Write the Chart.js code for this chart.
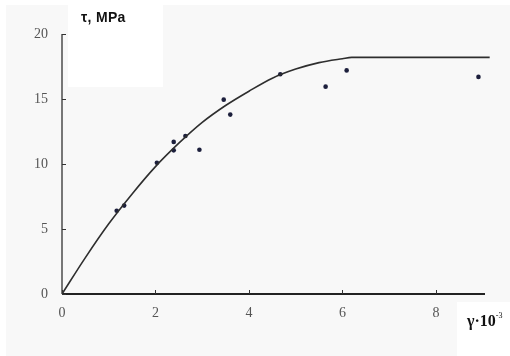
<!DOCTYPE html>
<html>
<head>
<meta charset="utf-8">
<script src="https://cdn.jsdelivr.net/npm/chart.js@4.4.1/dist/chart.umd.min.js"></script>
<style>
  html, body { margin: 0; padding: 0; background: #ffffff; }
  #wrap { position: relative; width: 510px; height: 356px; overflow: hidden; }
  .bg { position: absolute; background: #f8f8f8; left: 6px; top: 5px; width: 504px; height: 351px; }
  .box1 { position: absolute; background: #ffffff; left: 68px; top: 0px; width: 95px; height: 87px; }
  .box2 { position: absolute; background: #ffffff; left: 457px; top: 302px; width: 53px; height: 54px; }
  canvas { position: absolute; left: 0; top: 0; }
  .ylab { position: absolute; left: 81px; top: 9px; font: bold 14px "Liberation Sans", Arial, sans-serif; color: #111; letter-spacing: 0.3px; }
  .xlab { position: absolute; left: 467px; top: 312px; font: bold 16px "Liberation Serif", "Times New Roman", serif; color: #111; white-space: nowrap; }
  .xlab sup { font-size: 8px; font-weight: normal; position: relative; top: -2px; }
</style>
</head>
<body>
<div id="wrap">
  <div class="bg"></div>
  <div class="box1"></div>
  <div class="box2"></div>
  <canvas id="c" width="510" height="356"></canvas>
  <div class="ylab">τ, MPa</div>
  <div class="xlab">γ·10<sup>-3</sup></div>
</div>
<script>
// Measured points (strain x10^-3, stress MPa)
const pointX = [1.17, 1.33, 2.03, 2.39, 2.39, 2.64, 2.94, 3.46, 3.60, 4.67, 5.64, 6.09, 8.91];
const pointY = [6.4, 6.8, 10.1, 11.7, 11.05, 12.15, 11.1, 14.95, 13.8, 16.9, 15.95, 17.2, 16.7];

// Fitted curve
const curveX = [0, 0.5, 1, 1.5, 2, 2.5, 3, 3.5, 4, 4.5, 5, 5.5, 6, 6.2, 9.15];
const curveY = [0, 2.8, 5.4, 7.7, 9.8, 11.6, 13.2, 14.5, 15.6, 16.6, 17.3, 17.8, 18.1, 18.2, 18.2];

const xTicks = [0, 2, 4, 6, 8];
const yTicks = [0, 5, 10, 15, 20];

const tickMarks = {
  id: 'tickMarks',
  afterDraw(chart) {
    const ctx = chart.ctx;
    const xs = chart.scales.x, ys = chart.scales.y;
    const ca = chart.chartArea;
    ctx.save();
    ctx.strokeStyle = '#777';
    ctx.lineWidth = 2;
    ctx.beginPath();
    ctx.moveTo(ca.left, ca.top);
    ctx.lineTo(ca.left, ca.bottom);
    ctx.stroke();
    ctx.strokeStyle = '#222';
    ctx.beginPath();
    ctx.moveTo(ca.left, ca.bottom);
    ctx.lineTo(ca.right, ca.bottom);
    ctx.stroke();
    ctx.lineWidth = 1;
    ctx.strokeStyle = '#333';
    xTicks.forEach(v => {
      const px = Math.round(xs.getPixelForValue(v)) + 0.5;
      ctx.beginPath(); ctx.moveTo(px, ca.bottom); ctx.lineTo(px, ca.bottom - 4); ctx.stroke();
    });
    yTicks.forEach(v => {
      const py = Math.round(ys.getPixelForValue(v)) + 0.5;
      ctx.beginPath(); ctx.moveTo(ca.left, py); ctx.lineTo(ca.left + 4, py); ctx.stroke();
    });
    ctx.restore();
  }
};

new Chart(document.getElementById('c'), {
  type: 'scatter',
  data: {
    datasets: [
      {
        type: 'line',
        data: curveX.map((x, i) => ({ x, y: curveY[i] })),
        borderColor: '#2e2e2e',
        borderWidth: 1.6,
        pointRadius: 0,
        tension: 0.4,
        cubicInterpolationMode: 'monotone',
        fill: false,
        clip: false
      },
      {
        data: pointX.map((x, i) => ({ x, y: pointY[i] })),
        backgroundColor: '#1c1f3c',
        borderColor: '#1c1f3c',
        pointRadius: 2.3,
        borderWidth: 0
      }
    ]
  },
  options: {
    responsive: false,
    animation: false,
    devicePixelRatio: 1,
    layout: { padding: { left: 0, top: 34, right: 25, bottom: 0 } },
    plugins: { legend: { display: false }, tooltip: { enabled: false } },
    scales: {
      x: {
        type: 'linear',
        min: 0, max: 9.05,
        afterFit(s) { s.height = 62; },
        afterBuildTicks(s) { s.ticks = xTicks.map(v => ({ value: v })); },
        grid: { display: false, drawTicks: false },
        border: { display: false },
        ticks: { padding: 11, color: '#555', font: { family: '"Liberation Serif", serif', size: 14 } }
      },
      y: {
        type: 'linear',
        min: 0, max: 20,
        afterFit(s) { s.width = 62; },
        afterBuildTicks(s) { s.ticks = yTicks.map(v => ({ value: v })); },
        grid: { display: false, drawTicks: false },
        border: { display: false },
        ticks: { padding: 14, color: '#555', font: { family: '"Liberation Serif", serif', size: 14 } }
      }
    }
  },
  plugins: [tickMarks]
});
</script>
</body>
</html>
